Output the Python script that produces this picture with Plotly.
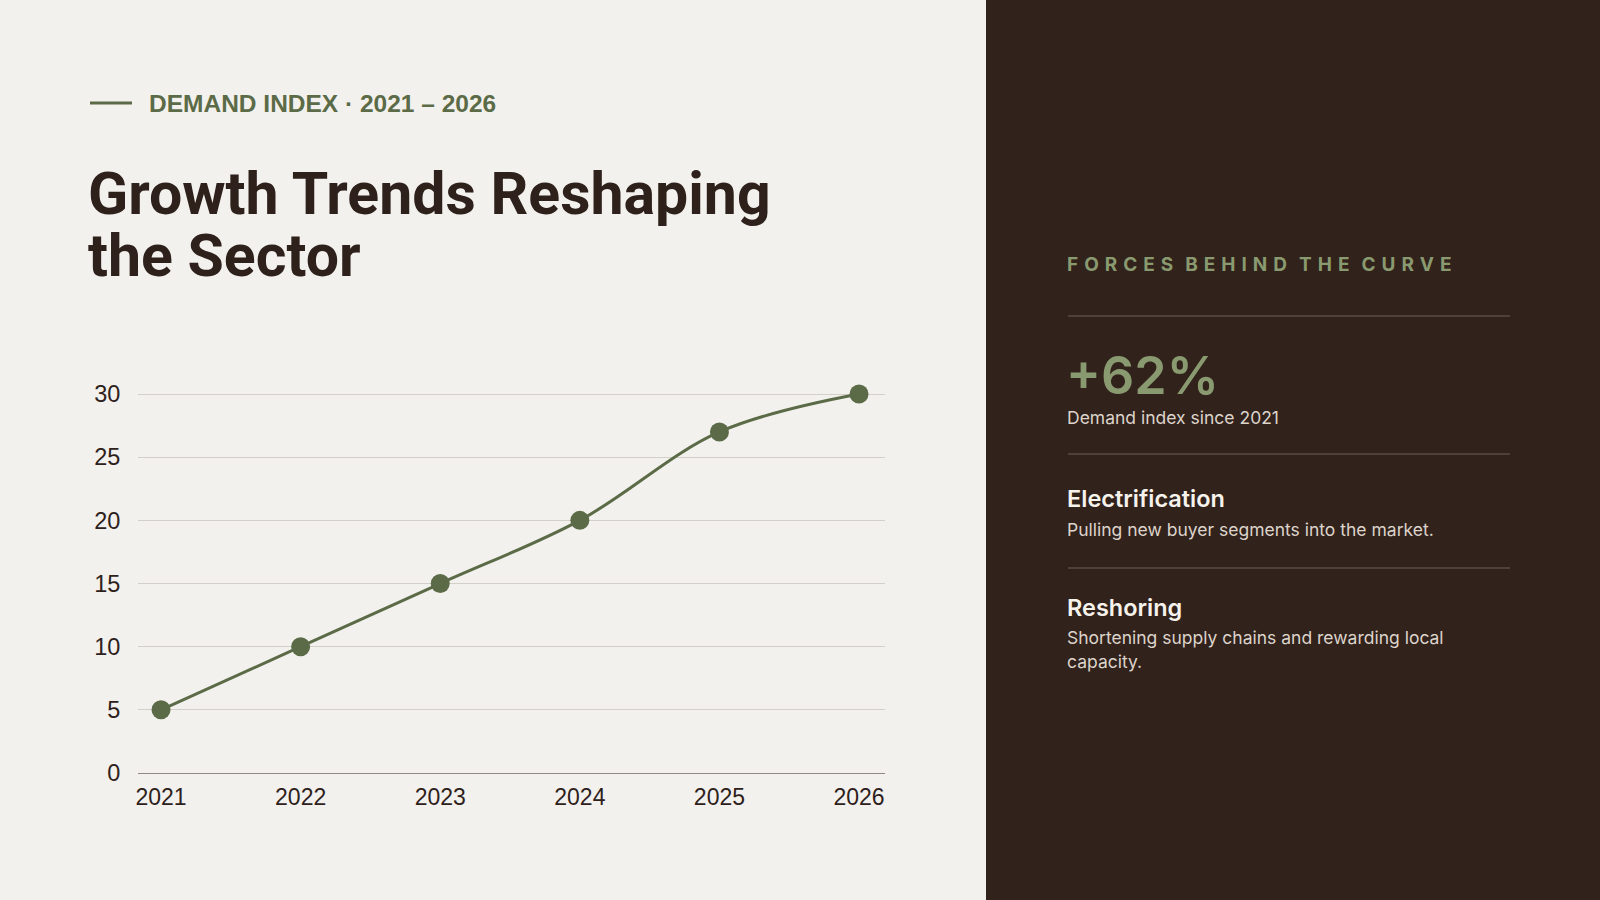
import plotly.graph_objects as go

W, H = 1600, 900

years = [2021, 2022, 2023, 2024, 2025, 2026]
demand = [5, 10, 15, 20, 27, 30]
y_ticks = [0, 5, 10, 15, 20, 25, 30]

LIGHT_BG = "#f3f1ed"
DARK_BG = "#31221b"
GREEN = "#5c6b47"
SAGE = "#8a9a70"
INK = "#2e211b"


def px_x(p):
    return p / W


def px_y(p):
    return 1 - p / H


def spaced(s):
    # letter-spaced caps for the panel kicker
    gap = "\u00a0\u200a"
    return (gap * 2).join(gap.join(w) for w in s.split(" "))


fig = go.Figure()

fig.add_trace(go.Scatter(
    x=years, y=demand,
    mode="lines+markers",
    line=dict(color=GREEN, width=3, shape="spline", smoothing=1),
    marker=dict(color=GREEN, size=19),
    cliponaxis=False,
    hoverinfo="skip",
    showlegend=False,
))

# y: 0 sits at 773px, 30 at 394px -> 12.63px per unit
fig.update_xaxes(
    domain=[px_x(138), px_x(885)],
    range=[2020.835, 2026.186],
    tickvals=years,
    ticktext=[str(y) for y in years],
    tickfont=dict(family="Liberation Sans", size=23, color=INK),
    showgrid=False, zeroline=False,
    showline=True, linecolor="#8f8b84", linewidth=1,
    ticks="outside", ticklen=3, tickcolor="rgba(0,0,0,0)",
    fixedrange=True,
)
fig.update_yaxes(
    domain=[px_y(773), px_y(381.4)],
    range=[0, 31],
    tickvals=y_ticks,
    tickfont=dict(family="Liberation Sans", size=23.5, color=INK),
    showgrid=True, gridcolor="#d3d0c9", gridwidth=1,
    zeroline=False, showline=False,
    ticks="outside", ticklen=12, tickcolor="rgba(0,0,0,0)",
    fixedrange=True,
)

shapes = [
    dict(type="rect", xref="paper", yref="paper",
         x0=px_x(986), x1=1.01, y0=-0.02, y1=1.02,
         fillcolor=DARK_BG, line=dict(width=0), layer="below"),
    dict(type="line", xref="paper", yref="paper",
         x0=px_x(90), x1=px_x(132), y0=px_y(103), y1=px_y(103),
         line=dict(color=GREEN, width=3)),
]
for yy in [316, 454, 568]:
    shapes.append(dict(type="line", xref="paper", yref="paper",
                       x0=px_x(1068), x1=px_x(1510), y0=px_y(yy), y1=px_y(yy),
                       line=dict(color="#6e6058", width=1)))


def note(text, x, y, size, color, family="Inter", weight=400):
    return dict(text=text, xref="paper", yref="paper",
                x=px_x(x), y=px_y(y), xanchor="left", yanchor="middle",
                showarrow=False,
                font=dict(family=family, size=size, color=color, weight=weight))


BODY = "#ddd4cb"
HEAD = "#f6f2ec"

annotations = [
    note("DEMAND INDEX · 2021 – 2026", 147, 103, 24.5, GREEN, family="Liberation Sans", weight=700),
    note("Growth Trends Reshaping", 86, 194, 59, INK, family="Roboto", weight=700),
    note("the Sector", 86, 255, 59, INK, family="Roboto", weight=700),
    note(spaced("FORCES BEHIND THE CURVE"), 1065, 264, 19, SAGE, weight=700),
    note("+62%", 1064, 375, 52, SAGE, weight=600),
    note("Demand index since 2021", 1065, 417, 17.5, BODY),
    note("Electrification", 1065, 499, 23.5, HEAD, weight=600),
    note("Pulling new buyer segments into the market.", 1065, 529, 17.5, BODY),
    note("Reshoring", 1065, 607, 23.5, HEAD, weight=600),
    note("Shortening supply chains and rewarding local", 1065, 637, 17.5, BODY),
    note("capacity.", 1065, 661, 17.5, BODY),
]

fig.update_layout(
    width=W, height=H,
    margin=dict(l=0, r=0, t=0, b=0, autoexpand=False),
    paper_bgcolor=LIGHT_BG,
    plot_bgcolor="rgba(0,0,0,0)",
    shapes=shapes,
    annotations=annotations,
    hovermode=False,
)

fig.write_html(
    "out.html",
    config={"displayModeBar": False},
    post_script="document.body.style.margin='0';document.body.style.overflow='hidden';",
)
